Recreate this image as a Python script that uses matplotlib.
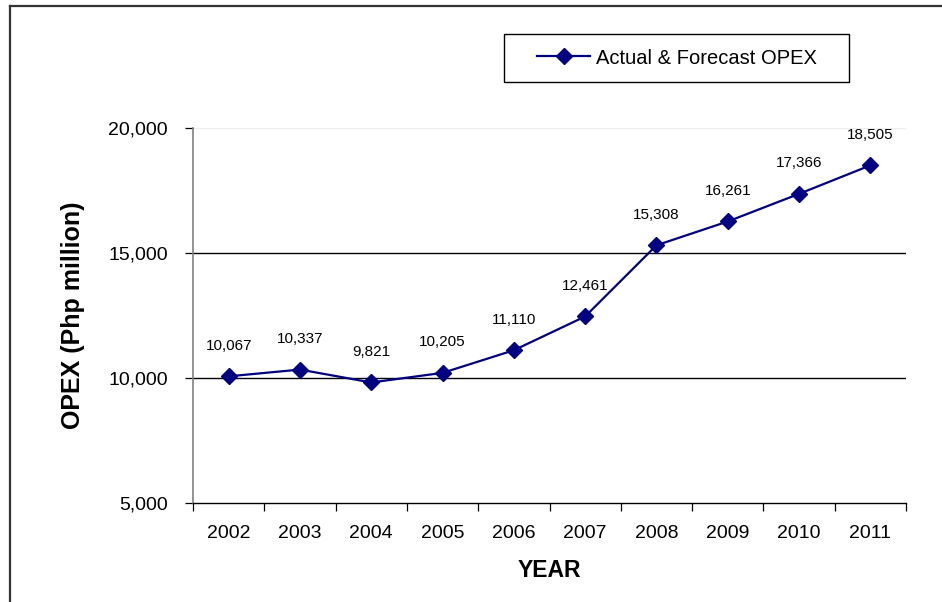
import matplotlib
matplotlib.use("Agg")
import matplotlib.pyplot as plt
from matplotlib.lines import Line2D
from matplotlib.patches import Rectangle
from matplotlib.ticker import FuncFormatter, FixedLocator

plt.rcParams["font.family"] = ["Liberation Sans", "DejaVu Sans"]

# OPEX series, Php million
years = ["2002", "2003", "2004", "2005", "2006", "2007", "2008", "2009", "2010", "2011"]
opex = [10067, 10337, 9821, 10205, 11110, 12461, 15308, 16261, 17366, 18505]
y_ticks = [5000, 10000, 15000, 20000]

NAVY = "#000080"

fig = plt.figure(figsize=(9.42, 6.02), dpi=100)
ax = fig.add_axes([193 / 942, 99 / 602, 713 / 942, 375 / 602])

x = list(range(len(years)))
line, = ax.plot(x, opex, color=NAVY, lw=1.6, marker="D", markersize=8.5,
                markerfacecolor=NAVY, markeredgecolor=NAVY,
                label="Actual & Forecast OPEX", zorder=3)

for xi, v in zip(x, opex):
    ax.annotate(f"{v:,}", (xi, v), xytext=(0, 22), textcoords="offset points",
                ha="center", va="center", fontsize=11, color="black")

ax.set_xlim(-0.5, len(years) - 0.5)
ax.set_ylim(5000, 20000)

# category labels centred, tick marks on the boundaries
ax.set_xticks(x)
ax.set_xticklabels(years, fontsize=14)
ax.xaxis.set_minor_locator(FixedLocator([i - 0.5 for i in range(len(years) + 1)]))
ax.tick_params(axis="x", which="major", length=0, pad=16)
ax.tick_params(axis="x", which="minor", length=6, width=0.9, direction="out", color="black")

ax.set_yticks(y_ticks)
ax.yaxis.set_major_formatter(FuncFormatter(lambda v, _: f"{int(v):,}"))
ax.tick_params(axis="y", length=6, width=0.9, direction="out", labelsize=14, pad=12)

for yv in y_ticks[1:]:
    ax.axhline(yv, color="black" if yv < 20000 else "#eeeeee", lw=1, zorder=1)

for side in ["top", "right"]:
    ax.spines[side].set_visible(False)
ax.spines["left"].set_color("#808080")
ax.spines["left"].set_linewidth(1.2)
ax.spines["bottom"].set_color("black")
ax.spines["bottom"].set_linewidth(1)

ax.set_xlabel("YEAR", fontsize=16.5, fontweight="bold", labelpad=12)
fig.text(73 / 942, 1 - 315 / 602, "OPEX (Php million)", rotation=90,
         fontsize=18, fontweight="bold", ha="center", va="center")

# legend with a hand-drawn frame
leg = fig.legend(handles=[line], loc="center left",
                 bbox_to_anchor=(537 / 942, 1 - 58 / 602),
                 frameon=False, borderpad=0, borderaxespad=0,
                 handlelength=2.65, handletextpad=0.3, fontsize=14.5)
fig.patches.append(Rectangle((504 / 942, 1 - 82 / 602), 345 / 942, 48 / 602,
                             transform=fig.transFigure, fill=False,
                             edgecolor="black", lw=1))

# outer chart frame (only top and left edges fall inside the image)
fig.lines.append(Line2D([9.5 / 942, 1.0], [1 - 6 / 602, 1 - 6 / 602],
                        transform=fig.transFigure, color="#333333", lw=1.6))
fig.lines.append(Line2D([9.5 / 942, 9.5 / 942], [0.0, 1 - 6 / 602],
                        transform=fig.transFigure, color="#333333", lw=1.6))

fig.savefig("out.png", dpi=100, facecolor="white")
